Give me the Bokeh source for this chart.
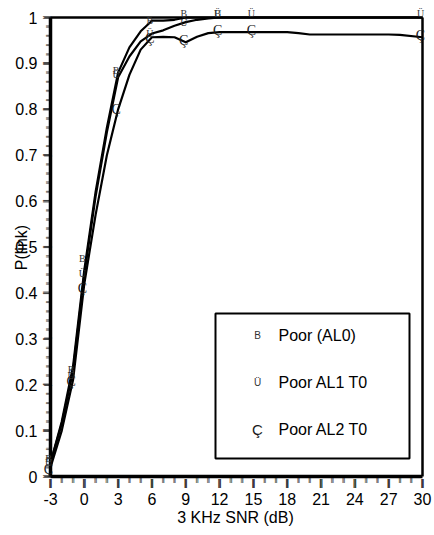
import math
from bokeh.plotting import figure
from bokeh.models import (ColumnDataSource, LabelSet, Label, BoxAnnotation,
                          FixedTicker, Range1d)
from bokeh.embed import file_html
from bokeh.resources import INLINE

# ---------------- data ----------------
series_names = ["Poor (AL0)", "Poor AL1 T0", "Poor AL2 T0"]
marker_chars = ["B", "\u00dc", "\u00c7"]

snr_al0 = [-3, -2, -1, 0, 1, 2, 3, 4, 5, 6, 7, 8, 9, 12, 15, 30]
p_al0 = [0.03, 0.12, 0.24, 0.45, 0.62, 0.76, 0.88, 0.935, 0.97, 0.993,
         0.993, 0.995, 1.0, 1.0, 1.0, 1.0]

snr_al1 = [-3, -2, -1, 0, 1, 2, 3, 4, 5, 6, 7, 8, 9, 10, 11, 12, 15, 30]
p_al1 = [0.03, 0.115, 0.23, 0.44, 0.61, 0.75, 0.87, 0.915, 0.948, 0.965,
         0.972, 0.982, 0.99, 0.995, 0.998, 1.0, 1.0, 1.0]

snr_al2 = [-3, -2, -1, 0, 1, 2, 3, 4, 5, 6, 7, 8, 9, 10, 11, 12, 15, 18,
           19, 20, 27, 28, 30]
p_al2 = [0.02, 0.10, 0.21, 0.42, 0.57, 0.70, 0.80, 0.875, 0.93, 0.957,
         0.958, 0.957, 0.946, 0.958, 0.966, 0.968, 0.968, 0.968,
         0.966, 0.963, 0.963, 0.962, 0.957]

# marker positions (symbols drawn only at these points)
mk_snr_al0 = [-3, -1, 0, 3, 6, 9, 12]
mk_p_al0 = [0.04, 0.234, 0.476, 0.885, 0.993, 1.008, 1.008]
mk_snr_al1 = [-3, -1, 0, 3, 6, 9, 12, 15, 30]
mk_p_al1 = [0.03, 0.22, 0.443, 0.875, 0.965, 0.99, 1.008, 1.008, 1.008]
mk_snr_al2 = [-3, -1, 0, 3, 6, 9, 12, 15, 30]
mk_p_al2 = [0.015, 0.207, 0.41, 0.80, 0.955, 0.95, 0.972, 0.972, 0.96]

# axis limits and ticks
X_MIN, X_MAX = -3, 30
Y_MIN, Y_MAX = 0, 1
x_ticks = [-3, 0, 3, 6, 9, 12, 15, 18, 21, 24, 27, 30]
x_tick_labels = ["-3", "0", "3", "6", "9", "12", "15", "18", "21", "24", "27", "30"]
y_ticks = [0, 0.1, 0.2, 0.3, 0.4, 0.5, 0.6, 0.7, 0.8, 0.9, 1]
y_tick_labels = ["0", "0.1", "0.2", "0.3", "0.4", "0.5", "0.6", "0.7", "0.8", "0.9", "1"]
x_minor = [v for v in range(-3, 31) if v not in x_ticks]
y_minor = [round(i * 0.02, 2) for i in range(51) if i % 5 != 0]

x_title = "3 KHz SNR (dB)"
y_title = "P(link)"

FONT = "Liberation Sans"

# ---------------- layout (pixels) ----------------
W, H = 434, 533
AX_LEFT, AX_RIGHT, AX_TOP, AX_BOTTOM = 50, 422, 17, 476   # spines on the page
FR_LEFT, FR_RIGHT, FR_TOP, FR_BOTTOM = 40, 430, 6, 488    # drawing frame
ppx = (AX_RIGHT - AX_LEFT) / (X_MAX - X_MIN)
ppy = (AX_BOTTOM - AX_TOP) / (Y_MAX - Y_MIN)
x_range = Range1d(X_MIN - (AX_LEFT - FR_LEFT) / ppx, X_MAX + (FR_RIGHT - AX_RIGHT) / ppx)
y_range = Range1d(Y_MIN - (FR_BOTTOM - AX_BOTTOM) / ppy, Y_MAX + (AX_TOP - FR_TOP) / ppy)

p = figure(width=W, height=H, output_backend="svg", toolbar_location=None,
           x_range=x_range, y_range=y_range,
           min_border_left=FR_LEFT, min_border_right=W - FR_RIGHT,
           min_border_top=FR_TOP, min_border_bottom=H - FR_BOTTOM)
p.grid.visible = False
p.outline_line_color = None

for ax, ticks, labels in ((p.xaxis[0], x_ticks, x_tick_labels),
                          (p.yaxis[0], y_ticks, y_tick_labels)):
    ax.ticker = FixedTicker(ticks=ticks, minor_ticks=[])
    ax.major_label_overrides = {t: l for t, l in zip(ticks, labels)}
    ax.axis_line_color = None
    ax.major_tick_line_color = None
    ax.minor_tick_line_color = None
    ax.major_tick_in = 0
    ax.major_tick_out = 0
    ax.minor_tick_in = 0
    ax.minor_tick_out = 0
    ax.major_label_text_font = FONT
    ax.major_label_text_font_size = "16px"
    ax.major_label_text_color = "black"
    ax.axis_label_text_font = FONT
    ax.axis_label_text_font_size = "16px"
    ax.axis_label_text_font_style = "normal"
    ax.axis_label_text_color = "black"

p.xaxis.major_label_standoff = 4
p.yaxis.major_label_standoff = 3
p.xaxis.axis_label = x_title
p.xaxis.axis_label_standoff = 1
p.yaxis.axis_label = y_title
p.yaxis.axis_label_standoff = -18

# frame box (spines)
p.segment(x0=[X_MIN], y0=[Y_MIN], x1=[X_MIN], y1=[Y_MAX], line_color="black", line_width=3.5)
p.segment(x0=[X_MIN], y0=[Y_MIN], x1=[X_MAX], y1=[Y_MIN], line_color="black", line_width=3.5)
p.segment(x0=[X_MIN], y0=[Y_MAX], x1=[X_MAX], y1=[Y_MAX], line_color="black", line_width=2.5)
p.segment(x0=[X_MAX], y0=[Y_MIN], x1=[X_MAX], y1=[Y_MAX], line_color="black", line_width=2.5)

# outward tick marks, drawn as bold bar characters anchored at the tick values
TICK = "|"
THICKEN = [-0.8, 0.0, 0.8]

def x_tick_marks(vals, font_px, centre_px):
    src = ColumnDataSource(dict(x=vals, y=[Y_MIN] * len(vals), t=[TICK] * len(vals)))
    for d in THICKEN:
        p.add_layout(LabelSet(x="x", y="y", text="t", source=src,
                              x_offset=d, y_offset=-centre_px,
                              text_align="center", text_baseline="middle",
                              text_font=FONT, text_font_style="bold",
                              text_font_size=f"{font_px}px", text_color="black"))

def y_tick_marks(vals, font_px, centre_px):
    src = ColumnDataSource(dict(x=[X_MIN] * len(vals), y=vals, t=[TICK] * len(vals)))
    for d in THICKEN:
        p.add_layout(LabelSet(x="x", y="y", text="t", source=src, angle=math.pi / 2,
                              x_offset=-centre_px, y_offset=d,
                              text_align="center", text_baseline="middle",
                              text_font=FONT, text_font_style="bold",
                              text_font_size=f"{font_px}px", text_color="black"))

x_tick_marks(x_ticks, 11, 5)
x_tick_marks(x_minor, 6.5, 3)
y_tick_marks(y_ticks, 9, 4)
y_tick_marks(y_minor, 6, 2.8)

# lines
for xs, ys in ((snr_al0, p_al0), (snr_al1, p_al1), (snr_al2, p_al2)):
    p.line(xs, ys, line_color="black", line_width=2.2, line_join="round")

# markers (symbol characters)
sizes = ["10px", "10px", "14px"]
colors = ["#333333", "#333333", "#1a1a1a"]
for (mx, my), ch, sz, col in zip(((mk_snr_al0, mk_p_al0), (mk_snr_al1, mk_p_al1),
                                  (mk_snr_al2, mk_p_al2)), marker_chars, sizes, colors):
    src = ColumnDataSource(dict(x=mx, y=my, t=[ch] * len(mx)))
    p.add_layout(LabelSet(x="x", y="y", text="t", source=src, x_offset=-2,
                          text_align="center", text_baseline="middle",
                          text_font=FONT, text_font_size=sz, text_color=col))

# legend box (screen units relative to the frame's bottom-left corner)
def sx(px):
    return px - FR_LEFT

def sy(py):
    return FR_BOTTOM - py

p.add_layout(BoxAnnotation(left=sx(215), right=sx(409), bottom=sy(458), top=sy(313),
                           left_units="screen", right_units="screen",
                           bottom_units="screen", top_units="screen",
                           fill_color="white", fill_alpha=1,
                           line_color="black", line_alpha=1, line_width=2))
row_py = [335, 382, 429]
for name, ch, sz, col, ry in zip(series_names, marker_chars, sizes, colors, row_py):
    p.add_layout(Label(x=sx(257), y=sy(ry), x_units="screen", y_units="screen", text=ch,
                       text_align="center", text_baseline="middle",
                       text_font=FONT, text_font_size=sz if ch != "\u00c7" else "15px",
                       text_color=col))
    p.add_layout(Label(x=sx(278), y=sy(ry), x_units="screen", y_units="screen", text=name,
                       text_align="left", text_baseline="middle",
                       text_font=FONT, text_font_size="16px", text_color="black"))

open("out.html", "w").write(file_html(p, INLINE))
